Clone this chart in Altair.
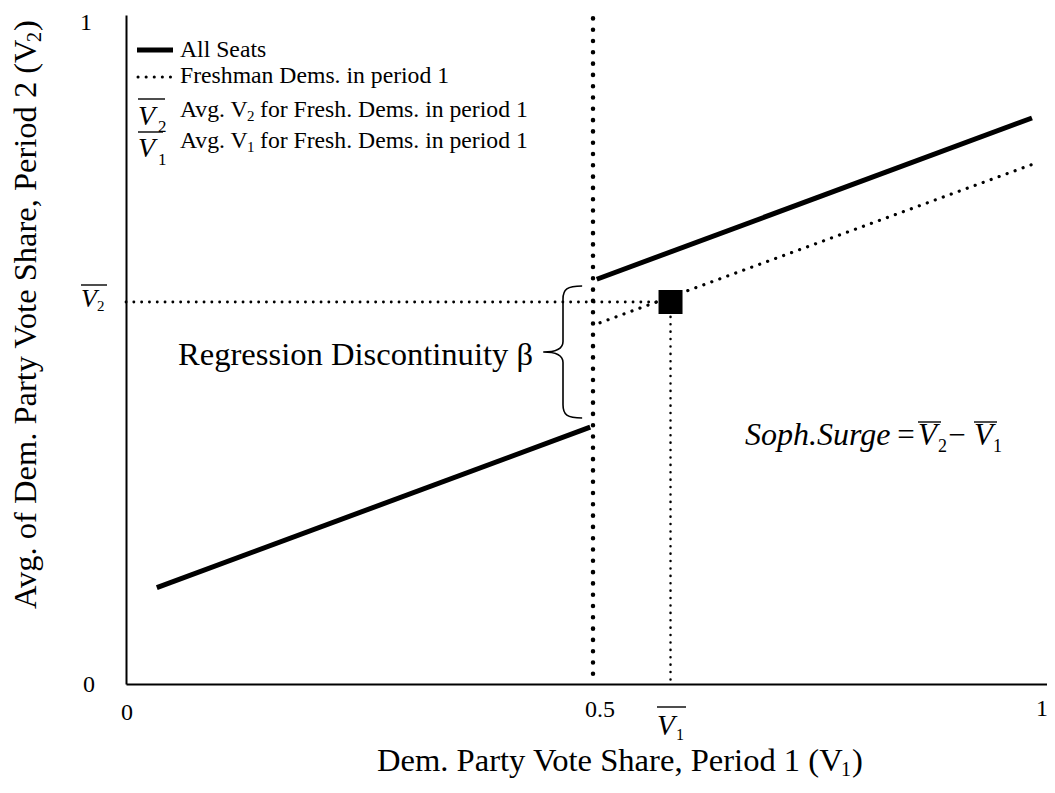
import altair as alt
import pandas as pd

FONT = "Liberation Serif, Times New Roman, serif"

# ---------------- data ----------------
all_seats_segment = ["below", "below", "above", "above"]
all_seats_v1 = [0.033, 0.497, 0.504, 0.970]
all_seats_v2 = [0.144, 0.384, 0.605, 0.846]

freshman_v1 = [0.5075, 0.971]
freshman_v2 = [0.540, 0.777]

cutoff = 0.5
cutoff_top = 0.995
avg_v1_fresh = 0.583
avg_v2_fresh = 0.571

# ---------------- layout ----------------
PLOT_W, PLOT_H = 921, 669
X_MAX = 921 / 934
PLOT_LEFT, PLOT_TOP = 126, 15   # page position of the plot origin (for annotation placement)

xscale = alt.Scale(domain=[0, X_MAX], nice=False, zero=False)
yscale = alt.Scale(domain=[0, 1], nice=False, zero=False)

one = pd.DataFrame({"k": [0]})


def X(f):
    return alt.X(f, type="quantitative", scale=xscale, title=None)


def Y(f):
    return alt.Y(f, type="quantitative", scale=yscale, title=None)


def txt(text, ax, ay, size, italic=False, align="left", baseline="alphabetic", angle=0):
    return alt.Chart(one).mark_text(
        text=text, font=FONT, fontSize=size,
        fontStyle="italic" if italic else "normal",
        align=align, baseline=baseline, angle=angle, color="black",
    ).encode(x=alt.value(ax - PLOT_LEFT), y=alt.value(ay - PLOT_TOP))


def hline(ax1, ax2, ay, width=1.4, dash=None):
    kw = dict(color="black", strokeWidth=width)
    if dash:
        kw.update(strokeDash=dash, strokeCap="round")
    else:
        kw.update(strokeCap="butt")
    return alt.Chart(one).mark_rule(**kw).encode(
        x=alt.value(ax1 - PLOT_LEFT), x2=alt.value(ax2 - PLOT_LEFT), y=alt.value(ay - PLOT_TOP)
    )


# ---------------- data marks ----------------
df_all = pd.DataFrame({"seg": all_seats_segment, "v1": all_seats_v1, "v2": all_seats_v2})
all_seats = alt.Chart(df_all).mark_line(color="black", strokeWidth=5, strokeCap="butt").encode(
    x=X("v1"), y=Y("v2"), detail="seg:N"
)

df_fr = pd.DataFrame({"v1": freshman_v1, "v2": freshman_v2})
freshman = alt.Chart(df_fr).mark_line(
    color="black", strokeWidth=3.2, strokeDash=[0.1, 8.4], strokeCap="round"
).encode(x=X("v1"), y=Y("v2"))

df_cut = pd.DataFrame({"x": [cutoff], "y": [cutoff_top], "y2": [0.0]})
cut_rule = alt.Chart(df_cut).mark_rule(
    color="black", strokeWidth=4.5, strokeDash=[0.1, 11.2], strokeCap="round"
).encode(x=X("x"), y=Y("y"), y2="y2:Q")

df_h = pd.DataFrame({"x": [0.0], "x2": [avg_v1_fresh], "y": [avg_v2_fresh]})
h_rule = alt.Chart(df_h).mark_rule(
    color="black", strokeWidth=2.8, strokeDash=[0.1, 7.7], strokeCap="round"
).encode(x=X("x"), x2="x2:Q", y=Y("y"))

df_v = pd.DataFrame({"x": [avg_v1_fresh], "y": [avg_v2_fresh], "y2": [0.0]})
v_rule = alt.Chart(df_v).mark_rule(
    color="black", strokeWidth=2.5, strokeDash=[0.1, 7.3], strokeCap="round"
).encode(x=X("x"), y=Y("y"), y2="y2:Q")

df_sq = pd.DataFrame({"x": [avg_v1_fresh], "y": [avg_v2_fresh]})
square = alt.Chart(df_sq).mark_square(size=576, color="black", filled=True, opacity=1).encode(
    x=X("x"), y=Y("y")
)

# ---------------- brace ----------------
BRACE = ("M 0.29 -1 C 0.06 -1 0 -0.95 0 -0.8 L 0 -0.16 C 0 -0.05 -0.1 0 -0.3 0 "
         "C -0.1 0 0 0.05 0 0.16 L 0 0.8 C 0 0.95 0.06 1 0.29 1")
brace = alt.Chart(one).mark_point(
    shape=BRACE, size=17424, filled=False, stroke="black", strokeWidth=1.6, opacity=1
).encode(x=alt.value(563 - PLOT_LEFT), y=alt.value(352 - PLOT_TOP))

layers = [all_seats, freshman, cut_rule, h_rule, v_rule, square, brace]

# ---------------- tick labels ----------------
layers += [
    txt("1", 86, 23, 24, align="center", baseline="middle"),
    txt("0", 89, 685, 24, align="center", baseline="middle"),
    txt("0", 127, 713, 24, align="center", baseline="middle"),
    txt("0.5", 600, 710, 24, align="center", baseline="middle"),
    txt("1", 1042, 709, 24, align="center", baseline="middle"),
    # V2-bar tick on y axis
    txt("V", 81, 307, 26, italic=True),
    txt("2", 97, 311, 15),
    hline(81, 107, 285),
    # V1-bar tick on x axis
    txt("V", 657, 735, 29, italic=True),
    txt("1", 676, 740, 16),
    hline(657, 686, 707),
]

# ---------------- axis titles ----------------
layers += [
    txt("Dem. Party Vote Share, Period 1 (V", 377, 771, 32.6),
    txt("1", 841, 776, 20),
    txt(")", 852, 771, 32.6),
    txt("Avg. of Dem. Party Vote Share, Period 2 (V", 36, 609, 32.5, angle=270),
    txt("2", 41, 42, 20, angle=270),
    txt(")", 36, 31, 32.5, angle=270),
]

# ---------------- legend ----------------
layers += [
    hline(137, 173, 50, width=5),
    txt("All Seats", 180, 57, 23.7),
    hline(138, 172, 77, width=3, dash=[0.1, 8]),
    txt("Freshman Dems. in period 1", 180, 83, 23.7),
    txt("V", 138, 125, 28, italic=True),
    txt("2", 158, 132, 17),
    hline(138, 165, 99),
    txt("Avg. V", 180, 117, 23.7),
    txt("2", 247, 121, 15),
    txt("for Fresh. Dems. in period 1", 260, 117, 23.7),
    txt("V", 138, 157, 28, italic=True),
    txt("1", 158, 165, 17),
    hline(138, 163, 132),
    txt("Avg. V", 180, 148, 23.7),
    txt("1", 247, 152, 15),
    txt("for Fresh. Dems. in period 1", 260, 148, 23.7),
]

# ---------------- annotations ----------------
layers += [
    txt("Regression Discontinuity \u03b2", 178, 365, 32.6),
    txt("Soph.Surge", 745, 445, 32, italic=True),
    txt("=", 906, 445, 31, align="center"),
    txt("V", 918, 445, 31, italic=True),
    txt("2", 938, 452, 18),
    hline(918, 941, 422),
    txt("\u2212", 957, 445, 31, align="center"),
    txt("V", 974, 445, 31, italic=True),
    txt("1", 993, 452, 18),
    hline(974, 997, 422),
]

chart = alt.layer(*layers).properties(
    width=PLOT_W, height=PLOT_H,
    autosize=alt.AutoSizeParams(type="none"),
    padding={"left": 118, "top": 7, "right": 0, "bottom": 96},
    background="white",
).configure_view(stroke=None).configure_axis(
    grid=False, labels=False, ticks=False, domain=True,
    domainColor="black", domainWidth=2, title=None,
)

chart.save("out.html", embed_options={"renderer": "svg", "actions": False})
